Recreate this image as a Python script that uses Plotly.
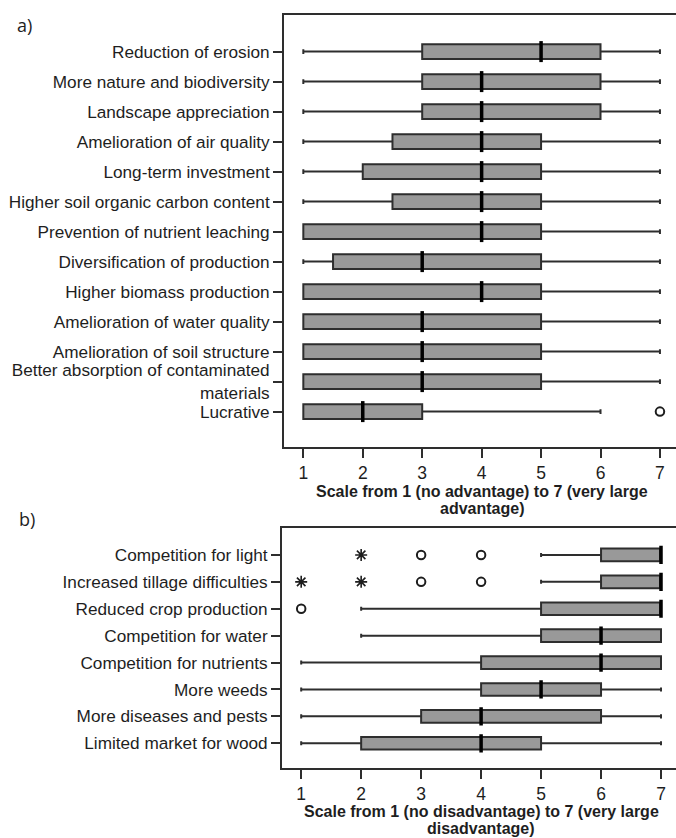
import plotly.graph_objects as go

# ---------------- data: panel a (advantages) ----------------
adv_labels = [
    "Reduction of erosion",
    "More nature and biodiversity",
    "Landscape appreciation",
    "Amelioration of air quality",
    "Long-term investment",
    "Higher soil organic carbon content",
    "Prevention of nutrient leaching",
    "Diversification of production",
    "Higher biomass production",
    "Amelioration of water quality",
    "Amelioration of soil structure",
    "Better absorption of contaminated<br>materials",
    "Lucrative",
]
adv_low = [1, 1, 1, 1, 1, 1, 1, 1, 1, 1, 1, 1, 1]
adv_q1 = [3, 3, 3, 2.5, 2, 2.5, 1, 1.5, 1, 1, 1, 1, 1]
adv_med = [5, 4, 4, 4, 4, 4, 4, 3, 4, 3, 3, 3, 2]
adv_q3 = [6, 6, 6, 5, 5, 5, 5, 5, 5, 5, 5, 5, 3]
adv_high = [7, 7, 7, 7, 7, 7, 7, 7, 7, 7, 7, 7, 6]
adv_out_x = [7]
adv_out_y = ["Lucrative"]

# ---------------- data: panel b (disadvantages) ----------------
dis_labels = [
    "Competition for light",
    "Increased tillage difficulties",
    "Reduced crop production",
    "Competition for water",
    "Competition for nutrients",
    "More weeds",
    "More diseases and pests",
    "Limited market for wood",
]
dis_low = [5, 5, 2, 2, 1, 1, 1, 1]
dis_q1 = [6, 6, 5, 5, 4, 4, 3, 2]
dis_med = [7, 7, 7, 6, 6, 5, 4, 4]
dis_q3 = [7, 7, 7, 7, 7, 6, 6, 5]
dis_high = [7, 7, 7, 7, 7, 7, 7, 7]
dis_out_x = [3, 4, 3, 4, 1]
dis_out_y = ["Competition for light", "Competition for light",
             "Increased tillage difficulties", "Increased tillage difficulties",
             "Reduced crop production"]
dis_ext_x = [2, 1, 2]
dis_ext_y = ["Competition for light",
             "Increased tillage difficulties", "Increased tillage difficulties"]

tick_vals = [1, 2, 3, 4, 5, 6, 7]

W, H = 676, 838
FONT = "Liberation Sans, Arial, sans-serif"
INK = "#1e1e1e"
LINE = "#2e2e2e"
FILL = "#999999"


def py(px):
    return 1 - px / H


fig = go.Figure()


def add_panel(labels, low, q1, med, q3, high, out_x, out_y, ext_x, ext_y,
              xa, ya, box_w, box_px):
    fig.add_trace(go.Box(
        y=labels, q1=q1, median=med, q3=q3,
        lowerfence=low, upperfence=high,
        orientation="h", boxpoints=False,
        width=box_w, whiskerwidth=0.32,
        fillcolor=FILL, line=dict(color=LINE, width=2),
        xaxis=xa, yaxis=ya, showlegend=False, hoverinfo="skip",
    ))
    # thick median bars
    fig.add_trace(go.Scatter(
        x=med, y=labels, mode="markers",
        marker=dict(symbol="line-ns", size=box_px,
                    line=dict(color="#000000", width=3.5)),
        xaxis=xa, yaxis=ya, showlegend=False, hoverinfo="skip",
    ))
    if out_x:
        fig.add_trace(go.Scatter(
            x=out_x, y=out_y, mode="markers",
            marker=dict(symbol="circle-open", size=8.5,
                        color=INK, line=dict(color=INK, width=2)),
            xaxis=xa, yaxis=ya, showlegend=False, hoverinfo="skip",
        ))
    if ext_x:
        fig.add_trace(go.Scatter(
            x=ext_x, y=ext_y, mode="markers",
            marker=dict(symbol="asterisk-open", size=10,
                        color=INK, line=dict(color=INK, width=1.6)),
            xaxis=xa, yaxis=ya, showlegend=False, hoverinfo="skip",
        ))


add_panel(adv_labels, adv_low, adv_q1, adv_med, adv_q3, adv_high,
          adv_out_x, adv_out_y, [], [], "x", "y", 0.49, 15)
add_panel(dis_labels, dis_low, dis_q1, dis_med, dis_q3, dis_high,
          dis_out_x, dis_out_y, dis_ext_x, dis_ext_y, "x2", "y2", 0.47, 13)

xcommon = dict(
    tickmode="array", tickvals=tick_vals,
    showline=True, mirror=True, linecolor=LINE, linewidth=1.8,
    ticks="outside", ticklen=9, tickwidth=2, tickcolor=LINE,
    showgrid=False, zeroline=False,
    tickfont=dict(family=FONT, size=17.5, color=INK),
)
ycommon = dict(
    type="category",
    showline=True, mirror=False, linecolor=LINE, linewidth=1.8,
    ticks="outside", ticklen=9, tickwidth=2, tickcolor=LINE,
    showgrid=False, zeroline=False,
    tickfont=dict(family=FONT, size=17.2, color=INK),
)

fig.update_layout(
    width=W, height=H,
    margin=dict(l=0, r=0, t=0, b=0),
    paper_bgcolor="white", plot_bgcolor="white",
    xaxis=dict(domain=[284 / W, 1], range=[0.675, 7.27],
               anchor="y", **xcommon),
    yaxis=dict(domain=[py(447), py(15)], anchor="x",
               categoryorder="array", categoryarray=adv_labels,
               range=[len(adv_labels) - 1 + 1.18, -1.22], **ycommon),
    xaxis2=dict(domain=[282 / W, 1], range=[0.68, 7.25],
                anchor="y2", **xcommon),
    yaxis2=dict(domain=[py(768.3), py(528.3)], anchor="x2",
                categoryorder="array", categoryarray=dis_labels,
                range=[len(dis_labels) - 1 + 0.93, -0.99], **ycommon),
)

title_font = dict(family=FONT, size=16, color=INK)
annotations = [
    dict(text="a)", x=15 / W, y=py(25), xref="paper", yref="paper",
         xanchor="left", yanchor="middle", showarrow=False,
         font=dict(family="Open Sans, sans-serif", size=18, color=INK)),
    dict(text="b)", x=17 / W, y=py(519), xref="paper", yref="paper",
         xanchor="left", yanchor="middle", showarrow=False,
         font=dict(family="Open Sans, sans-serif", size=18, color=INK)),
    dict(text="<b>Scale from 1 (no advantage) to 7 (very large</b>",
         x=4, xref="x", y=py(491), yref="paper", xanchor="center",
         yanchor="middle", showarrow=False, font=title_font),
    dict(text="<b>advantage)</b>",
         x=4, xref="x", y=py(508.5), yref="paper", xanchor="center",
         yanchor="middle", showarrow=False, font=title_font),
    dict(text="<b>Scale from 1 (no disadvantage) to 7 (very large</b>",
         x=4, xref="x2", y=py(811.5), yref="paper", xanchor="center",
         yanchor="middle", showarrow=False, font=title_font),
    dict(text="<b>disadvantage)</b>",
         x=4, xref="x2", y=py(828.5), yref="paper", xanchor="center",
         yanchor="middle", showarrow=False, font=title_font),
]
fig.update_layout(annotations=annotations)

fig.write_html("out.html")
